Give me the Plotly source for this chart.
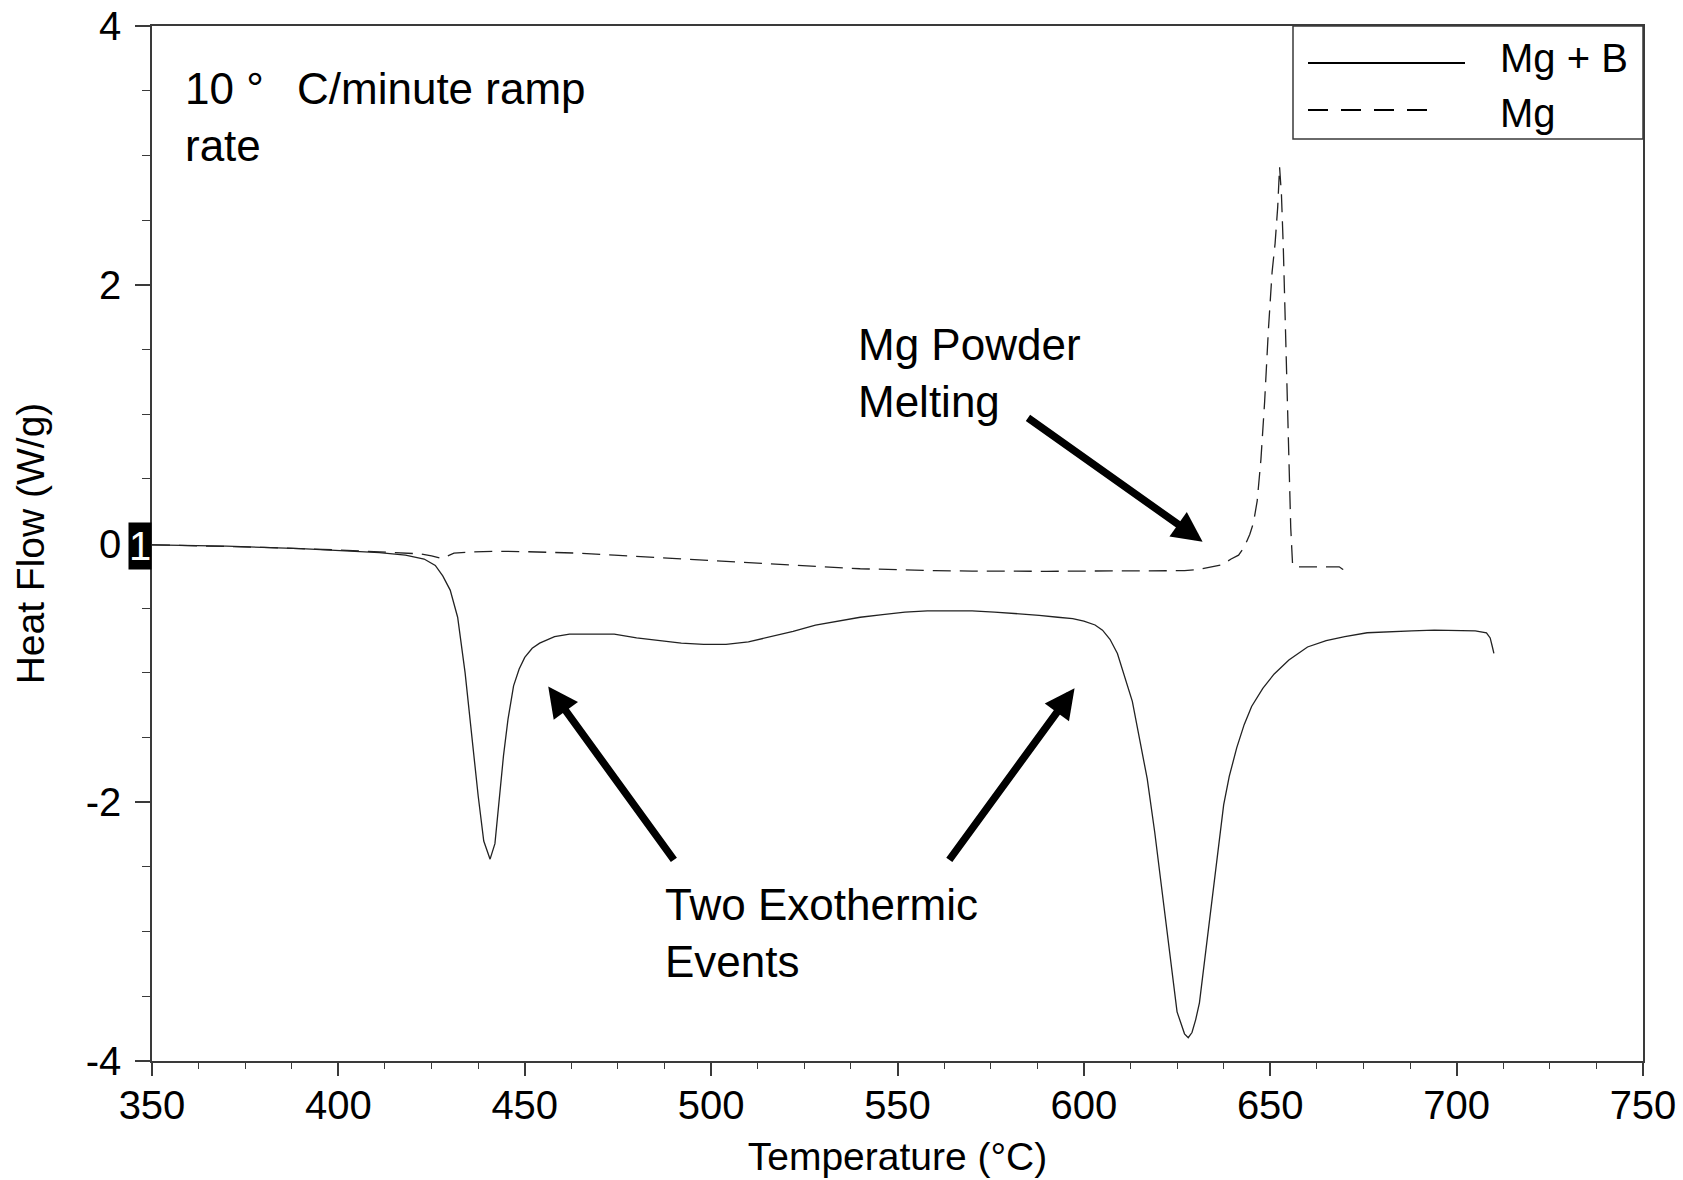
import plotly.graph_objects as go

# ---------------- data ----------------
mgb_temp = [350, 370, 390, 405, 411, 418, 423, 426, 428, 430, 432, 434, 436, 437.5, 439,
            440.7, 442, 443, 444.3, 445.5, 447, 448.5, 450, 452, 454, 458, 462, 468, 474,
            480, 486, 492, 498, 504, 510, 516, 522, 528, 534, 540, 546, 552, 558, 564, 570,
            576, 582, 588, 593, 597, 600, 603, 605, 607, 609, 611, 613, 615, 617, 619, 621,
            623, 625, 627, 628, 629, 630, 631, 632, 633, 634.5, 636, 637.5, 639, 641, 643,
            645, 648, 651, 655, 660, 665, 670, 676, 682, 688, 694, 700, 705, 708, 709,
            709.6, 710]
mgb_flow = [-0.01, -0.02, -0.04, -0.06, -0.07, -0.09, -0.12, -0.17, -0.25, -0.36, -0.57,
            -1.0, -1.55, -1.95, -2.3, -2.44, -2.32, -2.03, -1.64, -1.36, -1.10, -0.97, -0.88,
            -0.81, -0.77, -0.72, -0.70, -0.70, -0.70, -0.73, -0.75, -0.77, -0.78, -0.78,
            -0.76, -0.72, -0.68, -0.63, -0.60, -0.57, -0.55, -0.53, -0.52, -0.52, -0.52,
            -0.53, -0.54, -0.555, -0.57, -0.58, -0.60, -0.63, -0.67, -0.74, -0.85, -1.03,
            -1.22, -1.52, -1.82, -2.23, -2.70, -3.17, -3.62, -3.79, -3.82, -3.78, -3.68,
            -3.55, -3.31, -3.07, -2.70, -2.34, -2.02, -1.80, -1.58, -1.40, -1.26, -1.12,
            -1.01, -0.90, -0.80, -0.75, -0.72, -0.69, -0.68, -0.675, -0.67, -0.67, -0.675,
            -0.69, -0.73, -0.80, -0.85]

mg_temp = [350, 380, 400, 415, 422, 425, 427.5, 429, 431, 436, 442, 450, 456, 465, 474,
           483, 492, 500, 510, 520, 530, 540, 550, 560, 570, 580, 590, 600, 610, 620, 627,
           631, 634, 637, 639.5, 641.5, 643, 644.5, 645.5, 646.5, 647.5, 648.5, 649.5,
           650.5, 651.3, 652, 652.5, 653, 653.5, 654, 654.5, 655, 655.5, 656, 657, 660,
           665, 668.5, 669.5, 670]
mg_flow = [-0.01, -0.03, -0.05, -0.07, -0.08, -0.095, -0.115, -0.10, -0.075, -0.065,
           -0.06, -0.063, -0.068, -0.075, -0.09, -0.105, -0.122, -0.135, -0.15, -0.165,
           -0.18, -0.195, -0.205, -0.21, -0.213, -0.215, -0.215, -0.213, -0.212, -0.212,
           -0.21, -0.2, -0.185, -0.165, -0.12, -0.09, -0.03, 0.07, 0.16, 0.33, 0.65, 1.1,
           1.65, 2.1, 2.32, 2.6, 2.91, 2.7, 2.29, 1.75, 1.26, 0.62, 0.12, -0.17, -0.18,
           -0.18, -0.18, -0.18, -0.2, -0.22]

x_tick_vals = [350, 400, 450, 500, 550, 600, 650, 700, 750]
x_tick_text = ["350", "400", "450", "500", "550", "600", "650", "700", "750"]
y_tick_vals = [-4, -2, 0, 2, 4]
y_tick_text = ["-4", "-2", "0", "2", "4"]

series_names = ["Mg + B", "Mg"]

FONT = "Arial, 'Liberation Sans', sans-serif"
LINE_COLOR = "#222222"
AX_COLOR = "#3a3a3a"

W, H = 1683, 1180
ML, MR, MT, MB = 152, 40, 26, 119
PW, PH = W - ML - MR, H - MT - MB


def px_x(px):
    return (px - ML) / PW


def px_y(py):
    return 1 - (py - MT) / PH


fig = go.Figure()
fig.add_trace(go.Scatter(x=mgb_temp, y=mgb_flow, mode="lines", name=series_names[0],
                         line=dict(color=LINE_COLOR, width=1.3), showlegend=False))
fig.add_trace(go.Scatter(x=mg_temp, y=mg_flow, mode="lines", name=series_names[1],
                         line=dict(color=LINE_COLOR, width=1.3, dash="18px,9px"),
                         showlegend=False))

annotations = []
# text annotations
annotations.append(dict(x=358.4, y=3.293, xref="x", yref="y", xanchor="left", yanchor="middle",
                        align="left", showarrow=False,
                        text="10 °\u00a0\u00a0\u2009C/minute ramp<br>rate",
                        font=dict(size=44, color="black", family=FONT)))
annotations.append(dict(x=538.8, y=1.317, xref="x", yref="y", xanchor="left", yanchor="middle",
                        align="left", showarrow=False, text="Mg Powder<br>Melting",
                        font=dict(size=44, color="black", family=FONT)))
annotations.append(dict(x=487.1, y=-3.008, xref="x", yref="y", xanchor="left", yanchor="middle",
                        align="left", showarrow=False, text="Two Exothermic<br>Events",
                        font=dict(size=44, color="black", family=FONT)))
# arrows
for (hx, hy, tx, ty) in [(631.85, 0.014, 584.6, 0.979),
                         (456.3, -1.106, 490.3, -2.457),
                         (597.5, -1.118, 563.6, -2.457)]:
    annotations.append(dict(x=hx, y=hy, ax=tx, ay=ty, xref="x", yref="y", axref="x", ayref="y",
                            text="", showarrow=True, arrowhead=2, arrowsize=0.8,
                            arrowwidth=7.5, arrowcolor="black", standoff=0))
# marker label "1" at y=0
annotations.append(dict(x=0, y=0, xref="paper", yref="y", xanchor="right", yanchor="middle",
                        text="1", showarrow=False, bgcolor="black", borderpad=0,
                        width=22, height=46, yshift=-2,
                        font=dict(size=40, color="white", family=FONT)))
# manual legend texts
annotations.append(dict(x=px_x(1498), y=px_y(58), xref="paper", yref="paper", xanchor="left",
                        yanchor="middle", showarrow=False, text=series_names[0],
                        font=dict(size=40, color="black", family=FONT)))
annotations.append(dict(x=px_x(1498), y=px_y(113), xref="paper", yref="paper", xanchor="left",
                        yanchor="middle", showarrow=False, text=series_names[1],
                        font=dict(size=40, color="black", family=FONT)))

shapes = [
    dict(type="rect", xref="paper", yref="paper", x0=px_x(1293), x1=1, y0=px_y(139), y1=1,
         line=dict(color=AX_COLOR, width=1.5), fillcolor="rgba(0,0,0,0)"),
    dict(type="line", xref="paper", yref="paper", x0=px_x(1308), x1=px_x(1465),
         y0=px_y(63), y1=px_y(63), line=dict(color="black", width=2)),
    dict(type="line", xref="paper", yref="paper", x0=px_x(1308), x1=px_x(1432),
         y0=px_y(110), y1=px_y(110), line=dict(color="black", width=2, dash="20px,13px")),
]

fig.update_layout(
    width=W, height=H,
    margin=dict(l=ML, r=MR, t=MT, b=MB),
    paper_bgcolor="white", plot_bgcolor="white",
    font=dict(family=FONT, color="black"),
    annotations=annotations,
    shapes=shapes,
    showlegend=False,
)

fig.update_xaxes(
    range=[350, 750], tickvals=x_tick_vals, ticktext=x_tick_text,
    ticks="outside", ticklen=13, tickwidth=1.5, tickcolor=AX_COLOR,
    minor=dict(dtick=12.5, tick0=350, ticks="outside", ticklen=6, tickwidth=1.2,
               tickcolor=AX_COLOR, showgrid=False),
    showline=True, linecolor=AX_COLOR, linewidth=1.5, mirror=True,
    showgrid=False, zeroline=False,
    tickfont=dict(size=40, family=FONT, color="black"), ticklabelstandoff=-5,
    title=dict(text="Temperature (°C)", font=dict(size=39, family=FONT, color="black"),
               standoff=17),
    automargin=False,
)
fig.update_yaxes(
    range=[-4, 4], tickvals=y_tick_vals, ticktext=y_tick_text,
    ticks="outside", ticklen=15, tickwidth=1.5, tickcolor=AX_COLOR,
    minor=dict(dtick=0.5, tick0=0, ticks="outside", ticklen=8, tickwidth=1.2,
               tickcolor=AX_COLOR, showgrid=False),
    showline=True, linecolor=AX_COLOR, linewidth=1.5, mirror=True,
    showgrid=False, zeroline=False,
    tickfont=dict(size=40, family=FONT, color="black"), ticklabelstandoff=6,
    title=dict(text="Heat Flow (W/g)", font=dict(size=39, family=FONT, color="black"),
               standoff=29),
    automargin=False,
)

fig.write_html(
    "out.html",
    config={"displayModeBar": False},
    post_script="document.body.style.margin='0';document.body.style.overflow='hidden';",
)
